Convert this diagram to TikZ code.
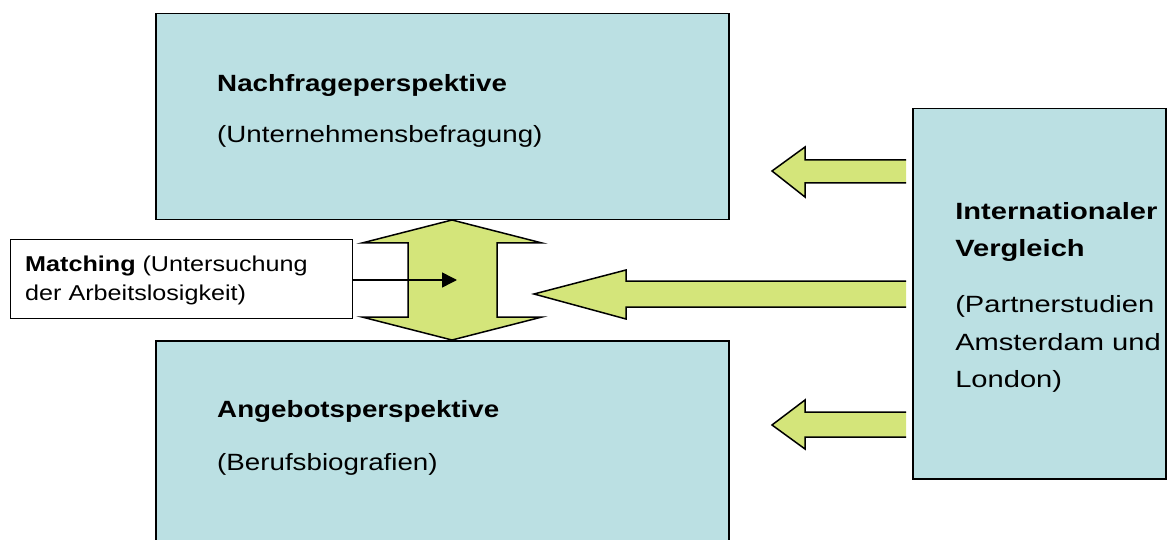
\documentclass[tikz,border=0pt]{standalone}
\usepackage{fontspec}
\setmainfont{Liberation Sans}
\usetikzlibrary{arrows.meta}
\definecolor{boxcyan}{RGB}{187,224,227}
\definecolor{arrgreen}{RGB}{212,229,122}
\tikzset{
  bigbox/.style={draw=black, line width=1.5pt, fill=boxcyan, inner sep=0pt},
  matchbox/.style={draw=black, line width=1.2pt, fill=white, inner sep=0pt},
  blockarrow/.style={draw=black, line width=1.5pt, fill=arrgreen, line join=miter},
  lbl/.style={anchor=base west, inner sep=0pt, xscale=1.18, font=\fontsize{23.5}{28}\selectfont},
  lblb/.style={lbl, font=\fontsize{23.5}{28}\selectfont\bfseries},
  rlbl/.style={lbl, xscale=1.05},
  rlblb/.style={lblb, xscale=1.05},
  mlbl/.style={anchor=base west, inner sep=0pt, xscale=1.17, font=\fontsize{21.5}{25}\selectfont},
}
\begin{document}
\begin{tikzpicture}[x=1pt,y=-1pt]
\useasboundingbox (0,0) rectangle (1170,540);
\clip (0,0) rectangle (1170,540);
% boxes
\node[bigbox, minimum width=573pt, minimum height=206pt, anchor=north west] (nach) at (155,13) {};
\node[bigbox, minimum width=573pt, minimum height=220pt, anchor=north west] (ang) at (155,340) {};
\node[bigbox, minimum width=253pt, minimum height=370pt, anchor=north west] (intl) at (912,108) {};
\node[matchbox, minimum width=342pt, minimum height=79pt, anchor=north west] (match) at (10,239) {};
% texts
\node[lblb] (t1) at (217,92) {Nachfrageperspektive};
\node[lbl] (t2) at (217,143) {(Unternehmensbefragung)};
\node[lblb] (t3) at (217,417) {Angebotsperspektive};
\node[lbl] (t4) at (217,470) {(Berufsbiografien)};
\node[rlblb] (t5) at (955,220) {Internationaler};
\node[rlblb] (t6) at (955,257) {Vergleich};
\node[rlbl] (t7) at (955,312) {(Partnerstudien};
\node[rlbl] (t8) at (955,350) {Amsterdam und};
\node[rlbl] (t9) at (955,387) {London)};
\node[mlbl] (m1) at (25,271) {\textbf{Matching} (Untersuchung};
\node[mlbl] (m2) at (25,300) {der Arbeitslosigkeit)};
% double block arrow
\draw[blockarrow] (452,220) -- (542,243) -- (497,243) -- (497,317) -- (542,317)
  -- (452,340) -- (362,317) -- (408,317) -- (408,243) -- (362,243) -- cycle;
% left arrows from the international box
\draw[blockarrow] (906,160) -- (805,160) -- (805,147) -- (772,171) -- (805,197) -- (805,183) -- (906,183);
\draw[blockarrow] (906,281) -- (626,281) -- (626,270) -- (534,294) -- (626,319) -- (626,307) -- (906,307);
\draw[blockarrow] (906,412) -- (805,412) -- (805,400) -- (772,425) -- (805,449) -- (805,437) -- (906,437);
% matching connector
\coordinate (mtip) at (457,280);
\draw[line width=1.5pt, -{Triangle[length=15pt,width=15pt]}] (match.east |- mtip) -- (mtip);
\end{tikzpicture}
\end{document}
